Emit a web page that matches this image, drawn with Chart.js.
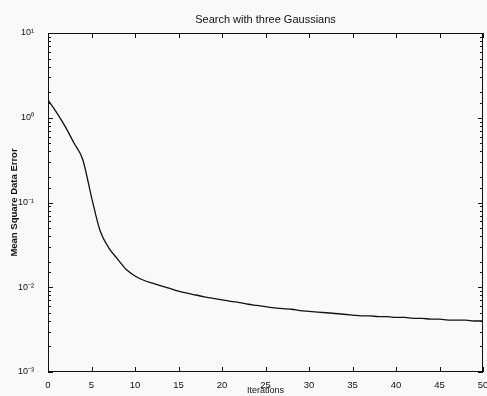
<!DOCTYPE html>
<html>
<head>
<meta charset="utf-8">
<script src="https://cdn.jsdelivr.net/npm/chart.js@4/dist/chart.umd.min.js"></script>
<style>
  html, body { margin: 0; padding: 0; background: #f9f9f9; }
  #wrap { width: 487px; height: 396px; }
</style>
</head>
<body>
<div id="wrap"><canvas id="mseChart" width="487" height="396"></canvas></div>
<script>
const iterations = [0,1,2,3,4,5,6,7,8,9,10,11,12,13,14,15,16,17,18,19,20,21,22,23,24,25,
  26,27,28,29,30,31,32,33,34,35,36,37,38,39,40,41,42,43,44,45,46,47,48,49,50];
const mseValues = [1.62,1.15,0.78,0.50,0.32,0.116,0.046,0.029,0.0215,0.0162,0.0136,0.0121,
  0.0112,0.0104,0.0097,0.0090,0.0085,0.0081,0.0077,0.0074,0.0071,0.0068,0.0066,0.0063,
  0.0061,0.0059,0.0057,0.0056,0.0055,0.0053,0.0052,0.0051,0.0050,0.0049,0.0048,0.0047,
  0.0046,0.0046,0.0045,0.0045,0.0044,0.0044,0.0043,0.0043,0.0042,0.0042,0.0041,0.0041,
  0.0041,0.0040,0.0040];
const xTickValues = [0,5,10,15,20,25,30,35,40,45,50];
const yTickLabels = { '10': '10\u00b9', '1': '10\u2070', '0.1': '10\u207b\u00b9', '0.01': '10\u207b\u00b2', '0.001': '10\u207b\u00b3' };
const chartTitle = 'Search with three Gaussians';

const FONT = '"Liberation Sans", Arial, sans-serif';
const INK = '#111';

// box + inward ticks, matlab style; title centred over the axes box
const boxTicks = {
  id: 'boxTicks',
  afterDatasetsDraw(chart) {
    const { ctx, chartArea: a, scales } = chart;
    ctx.save();
    ctx.strokeStyle = INK;
    ctx.lineWidth = 1;
    ctx.strokeRect(a.left + 0.5, a.top + 0.5, a.right - a.left - 1, a.bottom - a.top - 1);
    ctx.beginPath();
    xTickValues.forEach(v => {
      const px = Math.round(scales.x.getPixelForValue(v)) + 0.5;
      ctx.moveTo(px, a.bottom); ctx.lineTo(px, a.bottom - 5);
      ctx.moveTo(px, a.top); ctx.lineTo(px, a.top + 5);
    });
    scales.y.ticks.forEach(t => {
      const py = Math.round(scales.y.getPixelForValue(t.value)) + 0.5;
      const major = yTickLabels[String(t.value)] !== undefined;
      const len = major ? 5 : 3;
      ctx.moveTo(a.left, py); ctx.lineTo(a.left + len, py);
      ctx.moveTo(a.right, py); ctx.lineTo(a.right - len, py);
    });
    ctx.stroke();

    ctx.fillStyle = INK;
    ctx.font = '11px ' + FONT;
    ctx.textAlign = 'center';
    ctx.textBaseline = 'middle';
    ctx.fillText(chartTitle, (a.left + a.right) / 2, 20);
    ctx.restore();
  }
};

new Chart(document.getElementById('mseChart'), {
  type: 'line',
  data: {
    datasets: [{
      data: iterations.map((it, i) => ({ x: it, y: mseValues[i] })),
      borderColor: INK,
      borderWidth: 1.3,
      pointRadius: 0,
      cubicInterpolationMode: 'monotone',
      fill: false
    }]
  },
  options: {
    responsive: false,
    animation: false,
    layout: { padding: { left: 0, right: 4, top: 33, bottom: 0 } },
    plugins: {
      legend: { display: false },
      tooltip: { enabled: false },
      title: { display: false }
    },
    scales: {
      x: {
        type: 'linear',
        min: 0, max: 50,
        grid: { display: false },
        border: { display: false },
        ticks: {
          stepSize: 5,
          color: INK,
          padding: 0,
          font: { family: FONT, size: 9.5 }
        },
        title: {
          display: true,
          text: 'Iterations',
          color: INK,
          padding: { top: -2, bottom: 0 },
          font: { family: FONT, size: 9 }
        },
        afterFit(scale) { scale.height = 24; scale.paddingLeft = 0; scale.paddingRight = 0; }
      },
      y: {
        type: 'logarithmic',
        min: 0.001, max: 10,
        grid: { display: false },
        border: { display: false },
        ticks: {
          autoSkip: false,
          color: INK,
          padding: 6,
          font: { family: FONT, size: 9 },
          callback: v => yTickLabels[String(v)] || ''
        },
        title: {
          display: true,
          text: 'Mean Square Data Error',
          color: INK,
          padding: { top: 9, bottom: 4 },
          font: { family: FONT, size: 9.5, weight: 'bold' }
        },
        afterFit(scale) { scale.width = 48; scale.paddingTop = 0; scale.paddingBottom = 0; }
      }
    }
  },
  plugins: [boxTicks]
});
</script>
</body>
</html>
